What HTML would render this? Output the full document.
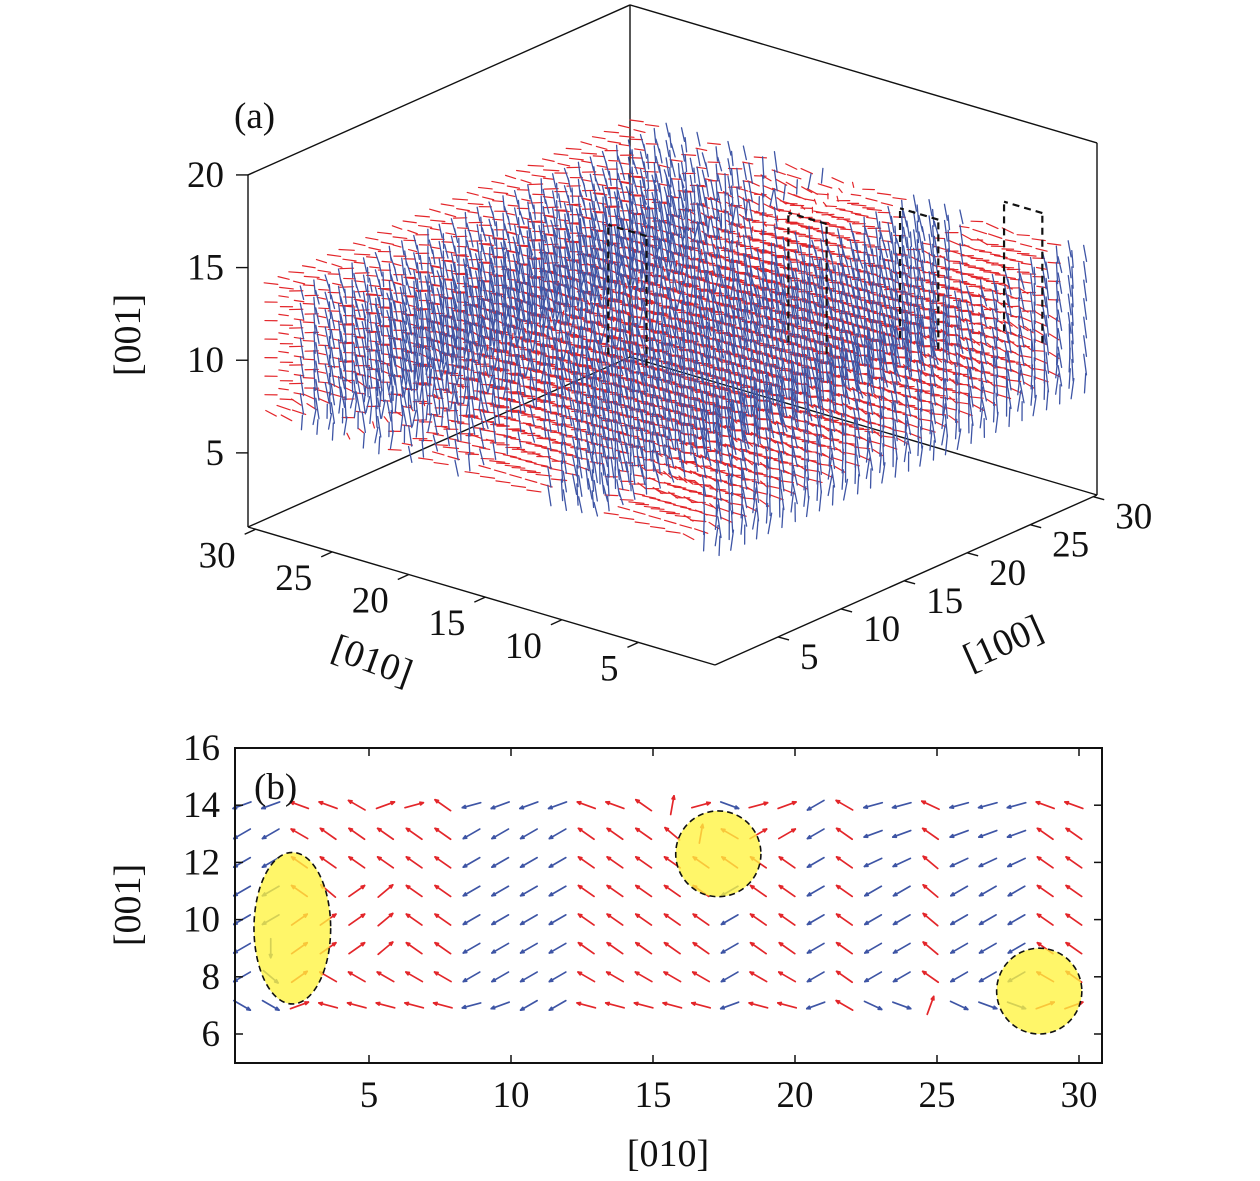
<!DOCTYPE html>
<html><head><meta charset="utf-8"><title>Spin configuration</title>
<style>
html,body{margin:0;padding:0;background:#fff;}
svg{display:block;}
text{font-family:"Liberation Serif",serif;fill:#111;}
</style></head>
<body>
<svg id="fig" width="1260" height="1181" viewBox="0 0 1260 1181" xmlns="http://www.w3.org/2000/svg" font-family="Liberation Serif, serif">
  <g id="panelA"></g>
  <g id="panelB"></g>
</svg>
<script>
// ---------- Data (panel b slice, rows z = 14 .. 7, columns [010] = 1..30) ----------
const rowZ = [14,13,12,11,10,9,8,7];
const colorRows = [
 "BBRRRRRRBBBBRRRRRBRRBRBBRBBBRR",
 "BBRRRRRRBBBBRRRRRRRRBRBBRBBBRR",
 "BBRRRRRRBBBBRRRRRRRRBRBBRBBBRR",
 "BBRRRRRRBBBBRRRRRBRRBRBBRBBBRR",
 "BBRRRRRRBBBBRRRRRBRRBRBBRBBBRR",
 "BBRRRRRRBBBBRRRRRBRRBRBBRBBBRR",
 "BBRRRRRRBBBBRRRRRBRRBRBBRBBBRR",
 "BBRRRRRRBBBBRRRRRBRRBRBBRBBBRR"
];
const angle14 = [200,200,160,160,150,20,15,145,195,200,200,200,160,160,145,80,15,340,15,20,210,150,195,195,155,195,195,195,160,160];
const angle13 = [210,210,150,145,145,145,145,145,210,210,210,210,145,145,145,140,80,150,30,30,210,145,200,200,145,200,200,200,145,145];
const angle12 = [210,210,145,145,145,145,145,145,210,210,210,210,145,145,145,145,145,145,145,145,210,145,205,205,140,205,205,205,145,145];
const angle11 = [210,210,145,140,35,40,145,145,210,210,210,210,145,145,145,145,145,210,145,145,210,145,210,210,140,210,210,210,145,145];
const angle10 = [210,210,35,35,35,40,145,145,210,210,210,210,145,145,145,145,145,210,145,145,210,145,210,210,140,210,210,210,145,145];
const angle9  = [210,270,35,35,35,40,145,145,210,210,210,210,145,145,145,145,145,210,145,145,210,145,210,210,140,210,210,210,145,145];
const angle8  = [210,320,35,150,150,150,150,150,210,210,210,210,150,150,150,150,150,210,150,150,210,145,210,210,145,210,210,210,150,145];
const angle7  = [330,330,20,165,165,165,165,165,195,200,210,210,165,165,165,165,165,200,165,165,200,150,335,340,70,335,340,340,20,20];
const angleRows = [angle14,angle13,angle12,angle11,angle10,angle9,angle8,angle7];
// [100]-component per x100 slice for 3D panel
const xComp = [0.3,-0.2,0.5,0.1,-0.4,0.2,0.6,-0.1,0.0,0.3,-0.5,0.2,0.4,-0.3,0.1,0.5,-0.2,0.3,0.0,-0.4,0.2,0.6,-0.1,0.3,0.5,-0.3,0.1,0.4,-0.2,0.2];
// skyrmion regions in panel b: [center010, center001, radius010, radius001]
const skyrmions = [[2.3,9.7,1.35,2.65],[17.3,12.3,1.5,1.5],[28.6,7.5,1.5,1.5]];
// tick labels
const bXTicks = [5,10,15,20,25,30];
const bYTicks = [6,8,10,12,14,16];
const aZTicks = [5,10,15,20];
const a010Ticks = [5,10,15,20,25,30];
const a100Ticks = [5,10,15,20,25,30];
// black dashed tube positions in 3D (x100, y010)
const tubeX = [14,21,25,29];
const tubeY = [16,10,6,2.5];

const NS = "http://www.w3.org/2000/svg";
const RED = "#e3262a", BLUE = "#3e55a5";
const FS = 37;
function mk(tag, attrs, parent){
  const e = document.createElementNS(NS, tag);
  for (const k in attrs) e.setAttribute(k, attrs[k]);
  parent.appendChild(e);
  return e;
}

// ================= Panel B =================
const gB = document.getElementById('panelB');
const bx = v => 227 + 28.4 * v;
const by = v => 748 + (16 - v) * 28.6;
const colPos = j => 0.53 + j * 1.01;

const gArrows = mk('g', {}, gB);


const L = 19;
rowZ.forEach((z, r) => {
  for (let j = 0; j < 30; j++) {
    const a = angleRows[r][j] * Math.PI / 180;
    const col = colorRows[r][j] === 'R' ? RED : BLUE;
    const cx = bx(colPos(j)), cy = by(z);
    const dx = Math.cos(a) * L / 2, dy = -Math.sin(a) * L / 2;
    const g = mk('g', {stroke: col, 'stroke-width': 1.7, 'stroke-linecap': 'round', fill: 'none'}, gArrows);
    
    
    mk('line', {x1: cx - dx, y1: cy - dy, x2: cx + dx, y2: cy + dy}, g);
    const hx = cx + dx, hy = cy + dy;
    const ha = Math.atan2(dy, dx);
    [1, -1].forEach(o => {
      mk('line', {x1: hx, y1: hy, x2: hx - 3.5 * Math.cos(ha + o * 0.4), y2: hy - 3.5 * Math.sin(ha + o * 0.4)}, g);
    });
  }
});
skyrmions.forEach(s => {
  const e = mk('ellipse', {cx: bx(s[0]), cy: by(s[1]), rx: s[2] * 28.4, ry: s[3] * 28.6,
    fill: '#fff33f', 'fill-opacity': 0.78, stroke: '#111', 'stroke-width': 1.6, 'stroke-dasharray': '6,4'}, gB);
  
  
});
const frame = mk('rect', {x: 235, y: 748, width: 867, height: 315, fill: 'none', stroke: '#111', 'stroke-width': 2}, gB);


bXTicks.forEach(t => {
  mk('line', {x1: bx(t), y1: 1063, x2: bx(t), y2: 1055, stroke: '#111', 'stroke-width': 1.5}, gB);
  mk('line', {x1: bx(t), y1: 748, x2: bx(t), y2: 756, stroke: '#111', 'stroke-width': 1.5}, gB);
  const tx = mk('text', {x: bx(t), y: 1107, 'font-size': FS, 'text-anchor': 'middle'}, gB);
  tx.textContent = t;
  
  
});
bYTicks.forEach(t => {
  mk('line', {x1: 235, y1: by(t), x2: 243, y2: by(t), stroke: '#111', 'stroke-width': 1.5}, gB);
  mk('line', {x1: 1102, y1: by(t), x2: 1094, y2: by(t), stroke: '#111', 'stroke-width': 1.5}, gB);
  const tx = mk('text', {x: 220, y: by(t) + 12, 'font-size': FS, 'text-anchor': 'end'}, gB);
  tx.textContent = t;
  
  
});
let t1 = mk('text', {x: 668, y: 1166, 'font-size': 38, 'text-anchor': 'middle'}, gB);
t1.textContent = '[010]';


let t2 = mk('text', {x: 0, y: 0, 'font-size': 38, 'text-anchor': 'middle', transform: 'translate(140,905) rotate(-90)'}, gB);
t2.textContent = '[001]';


let t3 = mk('text', {x: 254, y: 799, 'font-size': FS}, gB);
t3.textContent = '(b)';



// ================= Panel A =================
const gA = document.getElementById('panelA');
const XM = 30.3, YM = 30.5, ZS = 18.53;
function P(x, y, z){
  return [715 + x / XM * 382 - y / YM * 467, 665 - x / XM * 170 - y / YM * 138 - (z - 1) * ZS];
}
function seg(p, q, attrs, parent){
  return mk('line', Object.assign({x1: p[0], y1: p[1], x2: q[0], y2: q[1]}, attrs), parent);
}
const boxStyle = {stroke: '#111', 'stroke-width': 1.4};
const gBox = mk('g', {}, gA);


[[[0,YM,1],[0,YM,20]],[[XM,YM,1],[XM,YM,20]],[[XM,0,1],[XM,0,20]],
 [[0,YM,20],[XM,YM,20]],[[XM,YM,20],[XM,0,20]],
 [[0,YM,1],[XM,YM,1]],[[XM,YM,1],[XM,0,1]],
 [[0,YM,1],[0,0,1]],[[0,0,1],[XM,0,1]]].forEach(e => seg(P(...e[0]), P(...e[1]), boxStyle, gBox));

// arrows: red layer first, blue layer on top
const gRed = mk('g', {'stroke-width': 1.2, 'stroke-linecap': 'round', stroke: RED}, gA);


const gBlue = mk('g', {'stroke-width': 1.3, 'stroke-linecap': 'round', stroke: BLUE}, gA);


const ex = [382 / XM, -170 / XM], ey = [-467 / YM, -138 / YM], ez = [0, -ZS];
for (let i = 29; i >= 0; i--) {
  for (let j = 29; j >= 0; j--) {
    rowZ.forEach((z, r) => {
      const a = angleRows[r][j] * Math.PI / 180;
      const isRed = colorRows[r][j] === 'R';
      let vx, vy, vz, sc;
      if (isRed) { vx = xComp[i] * 0.5; vy = Math.cos(a); vz = Math.sin(a) * 0.25; sc = 0.42; }
      else { vx = xComp[i] * 0.3; vy = Math.cos(a) * 0.15; vz = Math.sin(a) * 1.6 - 0.3; sc = 0.5; }
      const sx = (vx * ex[0] + vy * ey[0] + vz * ez[0]) * sc;
      const sy = (vx * ex[1] + vy * ey[1] + vz * ez[1]) * sc;
      const c = P(i + 1, colPos(j), z);
      const ln = mk('line', {x1: c[0] - sx, y1: c[1] - sy, x2: c[0] + sx, y2: c[1] + sy}, isRed ? gRed : gBlue);
      
      
    });
  }
}
// dashed tubes
const gT = mk('g', {stroke: '#111', 'stroke-width': 2.2, 'stroke-dasharray': '7,5', fill: 'none'}, gA);


tubeX.forEach((x, k) => {
  seg(P(x, tubeY[k], 9), P(x, tubeY[k], 16), {}, gT);
  seg(P(x, tubeY[k] + 2.5, 9), P(x, tubeY[k] + 2.5, 16), {}, gT);
  seg(P(x, tubeY[k], 16), P(x, tubeY[k] + 2.5, 16), {}, gT);
});

// z ticks
aZTicks.forEach(t => {
  const p = P(0, YM, t);
  seg(p, [p[0] - 12, p[1]], boxStyle, gA);
  const tx = mk('text', {x: p[0] - 24, y: p[1] + 12, 'font-size': FS, 'text-anchor': 'end'}, gA);
  tx.textContent = t;
  
  
});
a010Ticks.forEach(t => {
  const p = P(0, t, 1);
  seg(p, [p[0] - 11, p[1] + 5], boxStyle, gA);
  const tx = mk('text', {x: p[0] - 20, y: p[1] + 38, 'font-size': FS, 'text-anchor': 'end'}, gA);
  tx.textContent = t;
  
  
});
a100Ticks.forEach(t => {
  const p = P(t, 0, 1);
  seg(p, [p[0] + 11, p[1] + 3], boxStyle, gA);
  const tx = mk('text', {x: p[0] + 22, y: p[1] + 32, 'font-size': FS, 'text-anchor': 'start'}, gA);
  tx.textContent = t;
  
  
});
let a1 = mk('text', {x: 0, y: 0, 'font-size': 38, 'text-anchor': 'middle', transform: 'translate(140,335) rotate(-90)'}, gA);
a1.textContent = '[001]';


let a2 = mk('text', {x: 0, y: 0, 'font-size': 38, 'text-anchor': 'middle', transform: 'translate(368,672) rotate(20)'}, gA);
a2.textContent = '[010]';


let a3 = mk('text', {x: 0, y: 0, 'font-size': 38, 'text-anchor': 'middle', transform: 'translate(1008,654) rotate(-24)'}, gA);
a3.textContent = '[100]';


let a4 = mk('text', {x: 234, y: 128, 'font-size': FS}, gA);
a4.textContent = '(a)';


</script>
</body></html>
